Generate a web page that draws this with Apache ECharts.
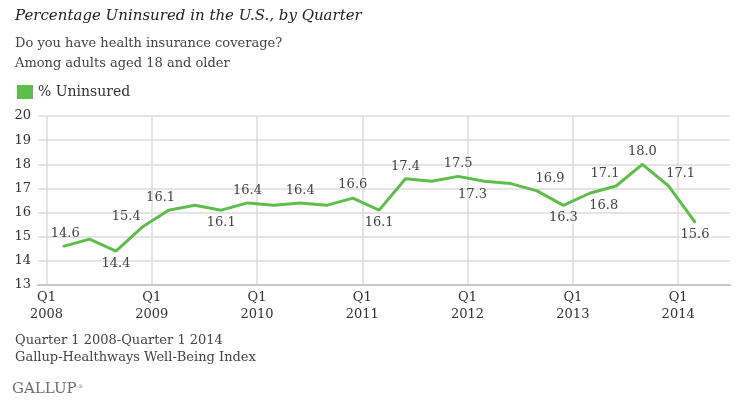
<!DOCTYPE html>
<html>
<head>
<meta charset="utf-8">
<script src="https://cdn.jsdelivr.net/npm/echarts@6/dist/echarts.min.js"></script>
<style>
html,body{margin:0;padding:0;background:#fff;}
#chart{width:740px;height:400px;}
</style>
</head>
<body>
<div id="chart"></div>
<script>
// Quarterly % uninsured, Q1 2008 .. Q1 2014
const quarters = [
  'Q1 2008','Q2 2008','Q3 2008','Q4 2008',
  'Q1 2009','Q2 2009','Q3 2009','Q4 2009',
  'Q1 2010','Q2 2010','Q3 2010','Q4 2010',
  'Q1 2011','Q2 2011','Q3 2011','Q4 2011',
  'Q1 2012','Q2 2012','Q3 2012','Q4 2012',
  'Q1 2013','Q2 2013','Q3 2013','Q4 2013',
  'Q1 2014'
];
const uninsured = [
  14.6, 14.9, 14.4, 15.4,
  16.1, 16.3, 16.1, 16.4,
  16.3, 16.4, 16.3, 16.6,
  16.1, 17.4, 17.3, 17.5,
  17.3, 17.2, 16.9, 16.3,
  16.8, 17.1, 18.0, 17.1,
  15.6
];
const yearTickLabels = ['Q1\n2008','Q1\n2009','Q1\n2010','Q1\n2011','Q1\n2012','Q1\n2013','Q1\n2014'];
const yTicks = [13, 14, 15, 16, 17, 18, 19, 20];

// label placement styling (which points are labelled, side, and nudge in px)
const labelStyle = {
  0:['top',[2,0]], 2:['bottom',[0,0]], 3:['top',[-16,2]], 4:['top',[-8,0]],
  6:['bottom',[0,0]], 7:['top',[0,0]], 9:['top',[0,0]], 11:['top',[0,-1]],
  12:['bottom',[0,0]], 13:['top',[0,0]], 15:['top',[0,0]], 16:['bottom',[-12,1]],
  18:['top',[13,0]], 19:['bottom',[0,0]], 20:['bottom',[14,0]], 21:['top',[-11,0]],
  22:['top',[0,0]], 23:['top',[12,0]], 24:['bottom',[0,0]]
};

const SERIF = "'DejaVu Serif', 'Liberation Serif', serif";
const GREEN = '#5fbd4b';
const GRID_OFFSET = -0.64; // Q1 gridlines sit slightly left of the Q1 points

const seriesData = uninsured.map((v, i) => {
  const item = { value: [i, v], name: quarters[i] };
  const ls = labelStyle[i];
  item.label = ls
    ? { show: true, position: ls[0], distance: 5 }
    : { show: false };
  return item;
});

const tickVals = yearTickLabels.map((_, k) => GRID_OFFSET + 4 * k);

const chart = echarts.init(document.getElementById('chart'), null, { renderer: 'canvas' });
chart.setOption({
  animation: false,
  backgroundColor: '#fff',
  textStyle: { fontFamily: SERIF },
  title: [
    { text: 'Percentage Uninsured in the U.S., by Quarter', left: 10, top: 4,
      textStyle: { fontFamily: SERIF, fontStyle: 'italic', fontWeight: 'normal', fontSize: 15, color: '#222' } },
    { text: 'Do you have health insurance coverage?', left: 10, top: 32,
      textStyle: { fontFamily: SERIF, fontWeight: 'normal', fontSize: 13, color: '#444' } },
    { text: 'Among adults aged 18 and older', left: 10, top: 52,
      textStyle: { fontFamily: SERIF, fontWeight: 'normal', fontSize: 13, color: '#444' } },
    { text: 'Quarter 1 2008-Quarter 1 2014', left: 10, top: 329,
      textStyle: { fontFamily: SERIF, fontWeight: 'normal', fontSize: 13, color: '#444' } },
    { text: 'Gallup-Healthways Well-Being Index', left: 10, top: 346,
      textStyle: { fontFamily: SERIF, fontWeight: 'normal', fontSize: 13, color: '#444' } },
    { text: 'GALLUP', left: 7, top: 377,
      textStyle: { fontFamily: SERIF, fontWeight: 'normal', fontSize: 15, color: '#6e6e6e' } },
    { text: '®', left: 73, top: 379,
      textStyle: { fontFamily: SERIF, fontWeight: 'normal', fontSize: 5, color: '#6e6e6e' } }
  ],
  legend: {
    left: 12, top: 80,
    icon: 'rect', itemWidth: 16, itemHeight: 14, itemGap: 10,
    textStyle: { fontFamily: SERIF, fontSize: 14, color: '#333', padding: [0, 0, 0, 0] },
    data: [{ name: '% Uninsured', itemStyle: { color: GREEN, opacity: 1 } }]
  },
  grid: { left: 38, right: 10, top: 116, bottom: 115, containLabel: false },
  xAxis: {
    type: 'value', min: -0.961, max: 25.33,
    axisLine: { show: true, lineStyle: { color: '#c8c8c8', width: 2 } },
    axisTick: { show: false, customValues: tickVals },
    axisLabel: {
      customValues: tickVals,
      formatter: (val) => {
        const k = Math.round((val - GRID_OFFSET) / 4);
        return yearTickLabels[k] || '';
      },
      fontFamily: SERIF, fontSize: 13, color: '#333', lineHeight: 17, margin: 4
    },
    splitLine: { show: true, lineStyle: { color: '#dcdcdc', width: 1.5 } }
  },
  yAxis: {
    type: 'value', min: yTicks[0], max: yTicks[yTicks.length - 1], interval: 1,
    axisLine: { show: false }, axisTick: { show: false },
    axisLabel: { fontFamily: SERIF, fontSize: 13, color: '#333', margin: 7 },
    splitLine: { show: true, lineStyle: { color: '#dcdcdc', width: 1.5 } }
  },
  series: [{
    name: '% Uninsured',
    type: 'line',
    data: seriesData,
    symbol: 'circle',
    symbolSize: 2,
    showSymbol: true,
    showAllSymbol: true,
    lineStyle: { color: GREEN, width: 3 },
    itemStyle: { color: GREEN },
    labelLayout: (params) => {
      const ls = labelStyle[params.dataIndex];
      const off = ls ? ls[1] : [0, 0];
      return { dx: off[0], dy: off[1], hideOverlap: false };
    },
    label: { show: false, fontFamily: SERIF, fontSize: 13, color: '#444', opacity: 1,
      formatter: (p) => p.value[1].toFixed(1) }
  }]
});
</script>
</body>
</html>
